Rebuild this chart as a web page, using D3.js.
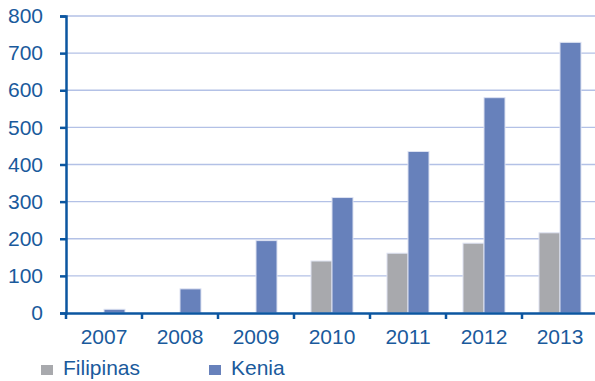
<!DOCTYPE html>
<html><head><meta charset="utf-8">
<script src="https://cdn.jsdelivr.net/npm/d3@7"></script>
<style>body{margin:0;background:#fff}svg{display:block}</style>
</head><body>
<svg id="c" width="595" height="381"></svg>
<script>
const years = ["2007","2008","2009","2010","2011","2012","2013"];
const filipinas = [null, null, null, 140, 161, 188, 216];
const kenia = [10, 65, 195, 311, 435, 580, 729];
const yTicks = [0,100,200,300,400,500,600,700,800];
const seriesNames = ["Filipinas","Kenia"];
const colors = {"Filipinas":"#a8a9ad","Kenia":"#6781bb"};

(function(){
const svg = d3.select("#c");
const mLeft = 66, mRight = 598, mTop = 16, mBottom = 313;
const x = d3.scaleBand().domain(years).range([mLeft, mRight]).paddingInner(0).paddingOuter(0);
const y = d3.scaleLinear().domain([0,800]).range([mBottom, mTop]);
const textColor = "#1a5a9c", axisColor = "#0b56a0";
const font = "Liberation Sans, Arial, sans-serif", fs = "21px";

// gridlines
svg.append("g").selectAll("line").data(yTicks.filter(d=>d>0)).join("line")
  .attr("x1", mLeft).attr("x2", 595).attr("y1", d=>y(d)).attr("y2", d=>y(d))
  .attr("stroke", "#b3c1e6").attr("stroke-width", 1.3);

const bw = 21;
const data = [];
years.forEach((yr,i)=>{
  if (filipinas[i]!=null) data.push({yr, s:"Filipinas", v:filipinas[i], off:-bw});
  if (kenia[i]!=null) data.push({yr, s:"Kenia", v:kenia[i], off:0});
});
svg.append("g").selectAll("rect").data(data).join("rect")
  .attr("x", d=>x(d.yr)+x.bandwidth()/2+d.off)
  .attr("width", bw)
  .attr("y", d=>y(d.v)).attr("height", d=>mBottom-y(d.v))
  .attr("fill", d=>colors[d.s]).attr("stroke", "#dde2f2").attr("stroke-width", 1);

// y axis
const ya = svg.append("g").attr("transform", `translate(${mLeft},0)`)
  .call(d3.axisLeft(y).tickValues(yTicks).tickSize(6).tickPadding(17).tickFormat(d3.format("d")));
ya.select(".domain").attr("stroke", axisColor).attr("stroke-width", 2.5);
ya.selectAll(".tick line").attr("stroke", axisColor).attr("stroke-width", 2.5);
ya.selectAll("text").attr("fill", textColor).style("font-family",font).style("font-size",fs);

// x axis
const xa = svg.append("g").attr("transform", `translate(0,${mBottom})`)
  .call(d3.axisBottom(x).tickSize(0).tickPadding(16));
xa.select(".domain").attr("stroke", axisColor).attr("stroke-width", 2.5);
xa.selectAll("text").attr("fill", textColor).style("font-family",font).style("font-size",fs);
// boundary tick marks
svg.append("g").selectAll("line").data(years.concat(["end"])).join("line")
  .attr("x1", (d,i)=> i<years.length ? x(d) : mRight)
  .attr("x2", (d,i)=> i<years.length ? x(d) : mRight)
  .attr("y1", mBottom).attr("y2", mBottom+6)
  .attr("stroke", axisColor).attr("stroke-width", 2.5);

// legend
const lg = svg.append("g");
const lx = [41, 209];
seriesNames.forEach((s,i)=>{
  lg.append("rect").attr("x", lx[i]).attr("y", 365).attr("width", 12).attr("height", 10).attr("fill", colors[s]);
  lg.append("text").attr("x", lx[i]+22).attr("y", 375).text(s)
    .attr("fill", textColor).style("font-family",font).style("font-size",fs);
});
})();
</script>
</body></html>
